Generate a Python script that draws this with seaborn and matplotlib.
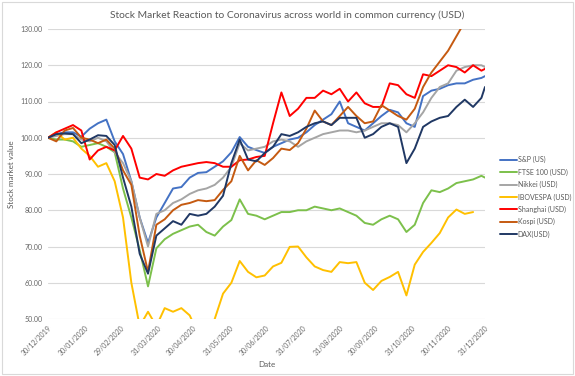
import numpy as np
import pandas as pd
import matplotlib
matplotlib.use("Agg")
import matplotlib.pyplot as plt
from matplotlib.patches import Rectangle
import seaborn as sns

dates = list(pd.date_range("2019-12-30", periods=53, freq="7D")) + [pd.Timestamp("2020-12-31")]

sp500 = [100, 101, 101.5, 101.5, 100.3, 102.5, 104, 105, 99, 95.5,
         88, 78, 71, 78, 82, 86, 86.4, 89, 90.3, 90.5,
         92, 93.5, 96, 100.2, 97.5, 96.6, 95.8, 97.5, 98.5, 99.5,
         100, 101.5, 103.5, 105, 106.5, 110, 104, 103, 102, 104,
         106, 107.7, 107, 104, 103, 111.5, 113, 113.5, 114.5, 115,
         115, 116, 116.5, 117]
ftse = [100, 99.5, 99.5, 99, 97.5, 98, 98.5, 97.5, 96, 86,
        78, 69, 59, 69.5, 72, 73.5, 74.5, 75.5, 76, 74,
        73, 75.5, 77.3, 83, 79, 78.5, 77.5, 78.5, 79.5, 79.5,
        80, 80, 81, 80.5, 80, 80.5, 79.5, 78.5, 76.5, 76,
        77.5, 78.5, 77.5, 74, 76, 82, 85.5, 85, 86, 87.5,
        88, 88.5, 89.5, 89]
nikkei = [100, 100.5, 101, 101, 99.5, 99, 100, 99, 96, 93,
          88, 78, 70, 79, 80, 82, 83, 84.5, 85.5, 86,
          87, 89, 92, 98.5, 96.5, 97, 97.5, 99, 99.5, 99,
          97.5, 99, 100, 101, 101.5, 102, 102, 101.5, 102, 103,
          104, 104, 103.5, 101.5, 104, 107, 111, 114, 115, 118.5,
          119.5, 120, 120, 119.5]
ibovespa = [100, 101.5, 99.5, 100, 97, 95, 92, 93, 88, 78,
            60, 48, 52, 48, 53, 52, 53, 51, 46, 45,
            50, 57, 60, 66, 63, 61.5, 62, 64.5, 65.5, 69.9,
            70, 67, 64.5, 63.5, 63, 65.7, 65.4, 65.7, 60, 58,
            60.5, 61.6, 63, 56.5, 65, 68.5, 71, 73.7, 78, 80.2,
            79, 79.5, np.nan, np.nan]
shanghai = [100, 101.5, 102.5, 103.5, 102, 94, 96.5, 97.5, 96.5, 100.5,
            97, 89, 88.5, 90, 89.5, 91, 92, 92.5, 93, 93.3,
            93, 92, 92, 93.8, 94, 94.7, 95, 104, 112.5, 106,
            108, 111, 111, 113, 112, 113.5, 110, 112.5, 109.5, 108.5,
            108.5, 115, 114.5, 112, 111, 117.5, 117, 118.5, 120, 119.5,
            118, 120, 118.5, 119]
kospi = [100, 99, 102, 102.7, 100, 99.5, 98.5, 99.5, 97, 91,
         87, 73, 63, 76, 77.5, 80, 81.5, 82, 82.8, 82.5,
         82.8, 85.6, 88, 95, 91, 93.8, 92.5, 94.4, 97, 96.6,
         98.5, 102.5, 107.5, 104.5, 103.5, 106, 108.5, 106, 104, 104.5,
         109, 107.5, 106, 105, 108, 114, 118, 121, 124, 128,
         132, 135, 138, 140]
dax = [100, 101, 101.2, 101, 98.5, 99.5, 100.7, 100.5, 98, 89,
       81, 68, 62.5, 73, 75, 77, 76, 79, 78.5, 79,
       81, 84, 93, 99.5, 94, 93.5, 95.8, 97.5, 101, 100.5,
       101.5, 103, 104, 104.5, 103.5, 105.5, 105.5, 105.5, 100, 101,
       103, 104, 103, 93, 97, 103, 104.5, 105.5, 106, 108.5,
       110.5, 108.5, 111, 114]

series_names = ["S&P (US)", "FTSE 100 (USD)", "Nikkei (USD)", "IBOVESPA (USD)",
                "Shanghai (USD)", "Kospi (USD)", "DAX(USD)"]
series_values = [sp500, ftse, nikkei, ibovespa, shanghai, kospi, dax]
colors = ["#4472C4", "#7CC04B", "#A5A5A5", "#FFC000", "#FF0000", "#C55A11", "#203864"]

tick_dates = ["2019-12-30", "2020-01-30", "2020-02-29", "2020-03-31", "2020-04-30",
              "2020-05-31", "2020-06-30", "2020-07-31", "2020-08-31", "2020-09-30",
              "2020-10-31", "2020-11-30", "2020-12-31"]
y_ticks = [50, 60, 70, 80, 90, 100, 110, 120, 130]

df = pd.concat([pd.DataFrame({"Date": dates, "value": v, "index": n})
                for n, v in zip(series_names, series_values)], ignore_index=True)

sns.set_theme(style="white")
plt.rcParams['font.family'] = ['Lato', 'DejaVu Sans']

fig = plt.figure(figsize=(5.75, 3.76), dpi=100)
ax = fig.add_axes([48 / 575, 1 - 319 / 376, 437 / 575, 290 / 376])

sns.lineplot(data=df, x="Date", y="value", hue="index", hue_order=series_names,
             palette=colors, linewidth=1.4, estimator=None, ax=ax)

ax.set_ylim(50, 130)
ax.set_xlim(pd.Timestamp("2019-12-30"), pd.Timestamp("2020-12-31"))
ax.set_yticks(y_ticks)
ax.set_yticklabels([f"{t:.2f}" for t in y_ticks])
tk = pd.to_datetime(tick_dates)
ax.set_xticks(tk)
ax.set_xticklabels([d.strftime("%d/%m/%Y") for d in tk], rotation=45, ha="right",
                   rotation_mode="anchor")
ax.tick_params(axis="both", labelsize=5, colors="#666666", length=0, pad=4)
ax.grid(axis="y", color="#D9D9D9", linewidth=0.8)
ax.set_axisbelow(True)
for s in ax.spines.values():
    s.set_visible(False)

ax.set_xlabel("Date", fontsize=5.8, color="#595959", labelpad=3)
ax.set_ylabel("Stock market value", fontsize=5.8, color="#595959", labelpad=4)

fig.text(0.5, 1 - 15 / 376, "Stock Market Reaction to Coronavirus across world in common currency (USD)",
         ha="center", va="center", fontsize=7.4, color="#595959")

handles, labels = ax.get_legend_handles_labels()
ax.legend(handles, labels, loc="center left", bbox_to_anchor=(500 / 575, 1 - 197 / 376),
          bbox_transform=fig.transFigure, frameon=False, fontsize=5,
          handlelength=2.4, handletextpad=0.15, labelspacing=0.75, borderpad=0,
          borderaxespad=0, labelcolor="#595959")

fig.patches.append(Rectangle((0.004, 0.006), 0.992, 0.988, transform=fig.transFigure,
                             fill=False, edgecolor="#D9D9D9", linewidth=0.8))

plt.savefig("out.png", dpi=100)
